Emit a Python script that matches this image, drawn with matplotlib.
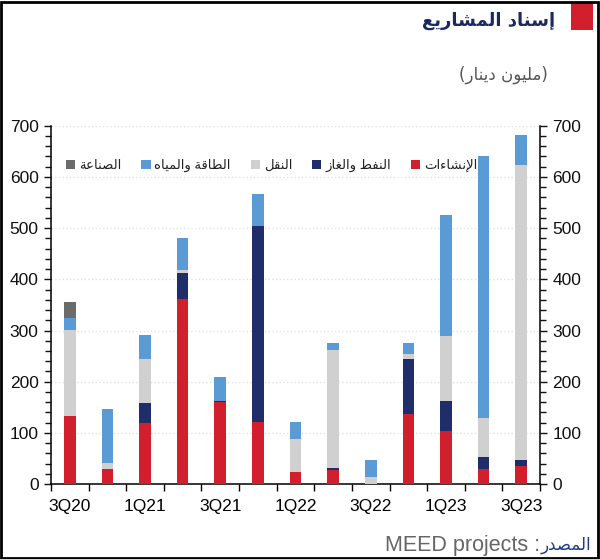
import matplotlib
matplotlib.use("Agg")
import matplotlib.pyplot as plt
import numpy as np
from matplotlib.patches import Rectangle, Patch
from matplotlib.ticker import MultipleLocator, FixedLocator

# البيانات (مليون دينار)
quarters = ['3Q20', '4Q20', '1Q21', '2Q21', '3Q21', '4Q21', '1Q22',
            '2Q22', '3Q22', '4Q22', '1Q23', '2Q23', '3Q23']
construction = [134, 29, 119, 361, 160, 121, 23, 27, 0, 137, 103, 29, 35]
oil_gas = [0, 0, 40, 52, 3, 383, 0, 4, 0, 107, 60, 23, 13]
transport = [168, 13, 85, 6, 0, 0, 66, 231, 14, 10, 126, 78, 575]
power_water = [23, 104, 48, 62, 47, 62, 32, 13, 34, 22, 237, 511, 59]
industry = [30, 0, 0, 0, 0, 0, 0, 0, 0, 0, 0, 0, 0]

series_names = ['الإنشاءات', 'النفط والغاز', 'النقل', 'الطاقة والمياه', 'الصناعة']
series_colors = ['#D11F2E', '#1F2E6B', '#D0D0D0', '#5B9BD5', '#6B6B6B']
tick_labels = quarters[::2]

title = 'إسناد المشاريع'
subtitle = '(مليون دينار)'
source_ar = 'المصدر'
source_en = 'MEED projects :'

# تشكيل الحروف العربية يدويا (matplotlib لا يدعم الربط ولا الاتجاه)
FORMS = {
    '\u0621': ('\uFE80', None, None, None),
    '\u0623': ('\uFE83', '\uFE84', None, None),
    '\u0625': ('\uFE87', '\uFE88', None, None),
    '\u0627': ('\uFE8D', '\uFE8E', None, None),
    '\u0628': ('\uFE8F', '\uFE90', '\uFE91', '\uFE92'),
    '\u0629': ('\uFE93', '\uFE94', None, None),
    '\u062A': ('\uFE95', '\uFE96', '\uFE97', '\uFE98'),
    '\u062F': ('\uFEA9', '\uFEAA', None, None),
    '\u0631': ('\uFEAD', '\uFEAE', None, None),
    '\u0632': ('\uFEAF', '\uFEB0', None, None),
    '\u0633': ('\uFEB1', '\uFEB2', '\uFEB3', '\uFEB4'),
    '\u0634': ('\uFEB5', '\uFEB6', '\uFEB7', '\uFEB8'),
    '\u0635': ('\uFEB9', '\uFEBA', '\uFEBB', '\uFEBC'),
    '\u0637': ('\uFEC1', '\uFEC2', '\uFEC3', '\uFEC4'),
    '\u0639': ('\uFEC9', '\uFECA', '\uFECB', '\uFECC'),
    '\u063A': ('\uFECD', '\uFECE', '\uFECF', '\uFED0'),
    '\u0641': ('\uFED1', '\uFED2', '\uFED3', '\uFED4'),
    '\u0642': ('\uFED5', '\uFED6', '\uFED7', '\uFED8'),
    '\u0644': ('\uFEDD', '\uFEDE', '\uFEDF', '\uFEE0'),
    '\u0645': ('\uFEE1', '\uFEE2', '\uFEE3', '\uFEE4'),
    '\u0646': ('\uFEE5', '\uFEE6', '\uFEE7', '\uFEE8'),
    '\u0647': ('\uFEE9', '\uFEEA', '\uFEEB', '\uFEEC'),
    '\u0648': ('\uFEED', '\uFEEE', None, None),
    '\u064A': ('\uFEF1', '\uFEF2', '\uFEF3', '\uFEF4'),
}
LAM_ALEF = {'\u0627': ('\uFEFB', '\uFEFC'),
            '\u0623': ('\uFEF7', '\uFEF8'),
            '\u0625': ('\uFEF9', '\uFEFA')}
MIRROR = {'(': ')', ')': '('}


def shape(text):
    tokens = []
    i = 0
    while i < len(text):
        c = text[i]
        if c == '\u0644' and i + 1 < len(text) and text[i + 1] in LAM_ALEF:
            iso, fin = LAM_ALEF[text[i + 1]]
            tokens.append((iso, fin, None, None))
            i += 2
        elif c in FORMS:
            tokens.append(FORMS[c])
            i += 1
        else:
            tokens.append(c)
            i += 1
    out = []
    for k, t in enumerate(tokens):
        if isinstance(t, str):
            out.append(MIRROR.get(t, t))
            continue
        prev = k > 0 and isinstance(tokens[k - 1], tuple) and tokens[k - 1][2] is not None
        nxt = (t[2] is not None and k + 1 < len(tokens)
               and isinstance(tokens[k + 1], tuple) and tokens[k + 1][1] is not None)
        if prev and nxt:
            out.append(t[3])
        elif prev:
            out.append(t[1])
        elif nxt:
            out.append(t[2])
        else:
            out.append(t[0])
    return ''.join(reversed(out))


plt.rcParams['font.family'] = ['Liberation Sans', 'DejaVu Sans']

fig = plt.figure(figsize=(6, 5.59), dpi=100)
ax = fig.add_axes([0.085, 0.134, 0.815, 0.641])

x = np.arange(len(quarters))
bottom = np.zeros(len(quarters))
all_series = [construction, oil_gas, transport, power_water, industry]
for vals, name, col in zip(all_series, series_names, series_colors):
    ax.bar(x, vals, width=0.31, bottom=bottom, color=col, zorder=3)
    bottom += np.array(vals)

ax.set_xlim(-0.5, len(quarters) - 0.5)
ax.set_ylim(0, 700)

# المحاور
ax.yaxis.set_major_locator(MultipleLocator(100))
ax.yaxis.set_minor_locator(MultipleLocator(20))
ax.tick_params(axis='y', which='both', left=True, right=True,
               labelleft=True, labelright=True, direction='out',
               labelsize=12.5, colors='#111111', pad=4)
ax.tick_params(axis='y', which='major', length=5, width=1)
ax.tick_params(axis='y', which='minor', length=4, width=1)

ax.xaxis.set_major_locator(FixedLocator(np.arange(-0.5, len(quarters), 1.0)))
ax.xaxis.set_minor_locator(FixedLocator(x[::2]))
ax.set_xticklabels([], minor=False)
ax.set_xticklabels(tick_labels, minor=True)
ax.tick_params(axis='x', which='major', length=5, width=1, direction='out')
ax.tick_params(axis='x', which='minor', length=0, labelsize=12.5, pad=11)

ax.grid(axis='y', which='major', color='#E2E2E2', linestyle=':', linewidth=1, zorder=0)
ax.spines['top'].set_visible(False)
for s in ['left', 'right', 'bottom']:
    ax.spines[s].set_linewidth(1.1)

# وسيلة الإيضاح (من اليمين إلى اليسار)
handles = [Patch(facecolor=c, label=shape(n)) for n, c in zip(series_names, series_colors)]
ax.legend(handles=handles[::-1], ncol=5, loc='center', bbox_to_anchor=(0.451, 0.889),
          frameon=False, fontsize=9.5, handlelength=0.7, handleheight=0.7,
          handletextpad=0.3, columnspacing=1.5, labelcolor='#222222')

# العنوان والنصوص
fig.text(0.925, 0.962, shape(title), ha='right', va='center', fontsize=13,
         fontweight='bold', color='#1B2A5E', family=['DejaVu Sans'])
fig.text(0.913, 0.866, shape(subtitle), ha='right', va='center', fontsize=12,
         color='#555555', family=['DejaVu Sans'])
fig.patches.append(Rectangle((0.951, 0.947), 0.037, 0.05, transform=fig.transFigure,
                             facecolor='#D11F2E', edgecolor='none'))
fig.text(0.985, 0.025, shape(source_ar), ha='right', va='center', fontsize=12,
         color='#1F3A8A', family=['DejaVu Sans'])
fig.text(0.9, 0.025, source_en, ha='right', va='center', fontsize=15.5,
         color='#666666')

fig.patches.append(Rectangle((0.002, 0.002), 0.995, 0.995, transform=fig.transFigure,
                             facecolor='none', edgecolor='black', linewidth=2))

fig.savefig('out.png', dpi=100)
